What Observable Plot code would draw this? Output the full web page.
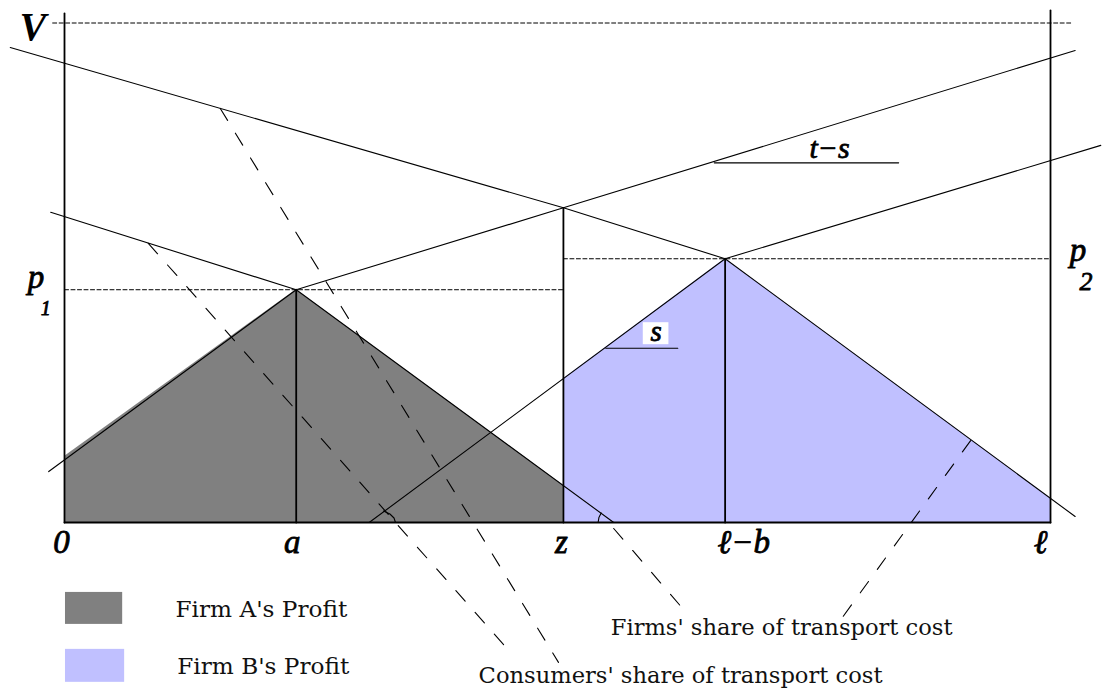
<!DOCTYPE html>
<html>
<head>
<meta charset="utf-8">
<script src="https://cdn.jsdelivr.net/npm/d3@7"></script>
<script src="https://cdn.jsdelivr.net/npm/@observablehq/plot@0.6"></script>
<style>
  html, body { margin: 0; padding: 0; background: #fff; }
  #chart svg { display: block; }
</style>
</head>
<body>
<div id="chart"></div>
<script>
// ---- Data (market length l = 100, reservation price V = 100) ----
const locNames = ["0", "a", "z", "ℓ−b", "ℓ"];
const locX     = [0, 23.5, 50.6, 67.0, 100];
const locLabelX = [-0.3, 23.1, 50.4, 68.9, 99.0];

const priceNames = ["V", "p1", "p2", "zTop"];
const priceY     = [100, 46.6, 52.8, 63.0];

// profit regions (upper boundary, filled down to 0)
const profitA = [[0, 13.2], [23.5, 46.6], [50.6, 7.4]];
const profitB = [[50.6, 28.8], [67.0, 52.8], [100, 4.9]];

// solid lines (delivered-price and net-price schedules)
const solidLines = {
  aLeft:  [[-1.6, 10.2], [23.5, 46.6]],
  aRight: [[23.5, 46.6], [55.7, 0]],
  bLeft:  [[30.9, 0], [67.0, 52.8]],
  bRight: [[67.0, 52.8], [102.5, 1.2]],
  L1:     [[-5.5, 95.1], [50.6, 63.0], [67.0, 52.8]],
  L2:     [[23.5, 46.6], [50.6, 63.0], [102.5, 94.5]],
  L3:     [[-1.4, 62.1], [23.5, 46.6]],
  L4:     [[67.0, 52.8], [105.1, 75.5]],
  tsRule: [[65.9, 72.0], [84.6, 72.0]],
  sRule:  [[54.9, 34.9], [62.2, 34.9]],
  arc1:   [[32.35, 2.3], [33.0, 1.7], [33.42, 0.9], [33.57, 0]],
  arc2:   [[54.43, 1.88], [54.2, 0.98], [54.12, 0]]
};
const heavyLines = {
  axisL: [[0, 0], [0, 101.9]],
  axisR: [[100, 0], [100, 102.5]],
  base:  [[0, 0], [100, 0]],
  vA:    [[23.5, 0], [23.5, 46.6]],
  vZ:    [[50.6, 0], [50.6, 63.0]],
  vB:    [[67.0, 0], [67.0, 52.8]]
};
const shortDash = {
  V:  [[-1.2, 100], [102.2, 100]],
  p1: [[0, 46.6], [50.6, 46.6]],
  p2: [[50.6, 52.8], [100, 52.8]]
};
const longDash = {
  consumersA: [[8.5, 55.9], [45.5, -26.6]],
  consumersB: [[15.8, 82.9], [50.1, -28.0]],
  firmsA:     [[55.7, -1.2], [62.6, -17.0]],
  firmsB:     [[91.9, 16.4], [78.9, -19.0]]
};

// legend
const legendNames  = ["Firm A's Profit", "Firm B's Profit"];
const legendColors = ["#808080", "#c0c0ff"];
const legendBoxes  = [[0.1, 5.9, -14.0, -20.4], [0.1, 6.1, -25.4, -32.0]];
const legendTextPos = [[11.26, -19.0], [11.43, -30.4]];

const notes = ["Firms' share of transport cost", "Consumers' share of transport cost"];
const notePos = [[55.4, -22.6], [42.0, -32.2]];

// math labels
const vLabel = [{t: "V", x: -3.2, y: 96.6}];
const mathLabels = [
  {t: "p", x: -2.9, y: 46.9, size: 33},
  {t: "1", x: -1.9, y: 41.6, size: 20},
  {t: "p", x: 102.8, y: 52.3, size: 33},
  {t: "2", x: 103.6, y: 46.6, size: 26},
  {t: "t−s", x: 77.6, y: 72.9, size: 30},
  {t: "s", x: 60.0, y: 36.4, size: 29}
];

// ---- Build ----
function flatten(obj) {
  const out = [];
  for (const [id, pts] of Object.entries(obj)) pts.forEach(([x, y]) => out.push({id, x, y}));
  return out;
}
const ptsA = profitA.map(([x, y]) => ({x, y}));
const ptsB = profitB.map(([x, y]) => ({x, y}));
const axisLabels = locNames.map((t, i) => ({t, x: locLabelX[i], y: -6.2}));
const legendRects = legendNames.map((n, i) => ({n, c: legendColors[i], x1: legendBoxes[i][0], x2: legendBoxes[i][1], y1: legendBoxes[i][2], y2: legendBoxes[i][3]}));
const legendTexts = legendNames.map((n, i) => ({t: n, x: legendTextPos[i][0], y: legendTextPos[i][1]}));
const noteTexts = notes.map((n, i) => ({t: n, x: notePos[i][0], y: notePos[i][1]}));

const serif = "'Liberation Serif', 'Times New Roman', serif";
const textFont = "'DejaVu Serif', serif";

const plot = Plot.plot({
  width: 1108,
  height: 694,
  margin: 0,
  style: {background: "#fff", overflow: "visible"},
  x: {domain: [0, 100], range: [64, 1050], axis: null},
  y: {domain: [0, 100], range: [522, 22.5], axis: null},
  marks: [
    Plot.areaY(ptsA, {x: "x", y: "y", fill: "#808080", curve: "linear"}),
    Plot.areaY(ptsB, {x: "x", y: "y", fill: "#c0c0ff", curve: "linear"}),
    Plot.line(flatten(shortDash), {x: "x", y: "y", z: "id", stroke: "#000", strokeWidth: 1, strokeDasharray: "4,2.5"}),
    Plot.line(flatten(longDash), {x: "x", y: "y", z: "id", stroke: "#000", strokeWidth: 1.1, strokeDasharray: "14,15"}),
    Plot.line(flatten(solidLines), {x: "x", y: "y", z: "id", stroke: "#000", strokeWidth: 1.1, curve: "linear"}),
    Plot.line(flatten(heavyLines), {x: "x", y: "y", z: "id", stroke: "#000", strokeWidth: 1.8}),
    Plot.rect([{x1: 58.7, x2: 61.3, y1: 35.6, y2: 40.0}], {x1: "x1", x2: "x2", y1: "y1", y2: "y2", fill: "#fff"}),
    Plot.rect(legendRects, {x1: "x1", x2: "x2", y1: "y1", y2: "y2", fill: "c"}),
    Plot.text(legendTexts, {x: "x", y: "y", text: "t", textAnchor: "start", lineAnchor: "bottom", fontSize: 23.2, fontFamily: textFont, fill: "#111"}),
    Plot.text(noteTexts, {x: "x", y: "y", text: "t", textAnchor: "start", lineAnchor: "bottom", fontSize: 22.6, fontFamily: textFont, fill: "#111"}),
    Plot.text(axisLabels, {x: "x", y: "y", text: "t", textAnchor: "middle", lineAnchor: "bottom", fontSize: 33, fontStyle: "italic", fontFamily: serif, fill: "#000", stroke: "#000", strokeWidth: 0.8}),
    Plot.text(vLabel, {x: "x", y: "y", text: "t", textAnchor: "middle", lineAnchor: "bottom", fontSize: 40, fontStyle: "italic", fontWeight: "bold", fontFamily: serif, fill: "#000"}),
    Plot.text(mathLabels, {x: "x", y: "y", text: "t", textAnchor: "middle", lineAnchor: "bottom", fontSize: "size", fontStyle: "italic", fontFamily: serif, fill: "#000", stroke: "#000", strokeWidth: 0.8})
  ]
});
document.getElementById("chart").appendChild(plot);
</script>
</body>
</html>
